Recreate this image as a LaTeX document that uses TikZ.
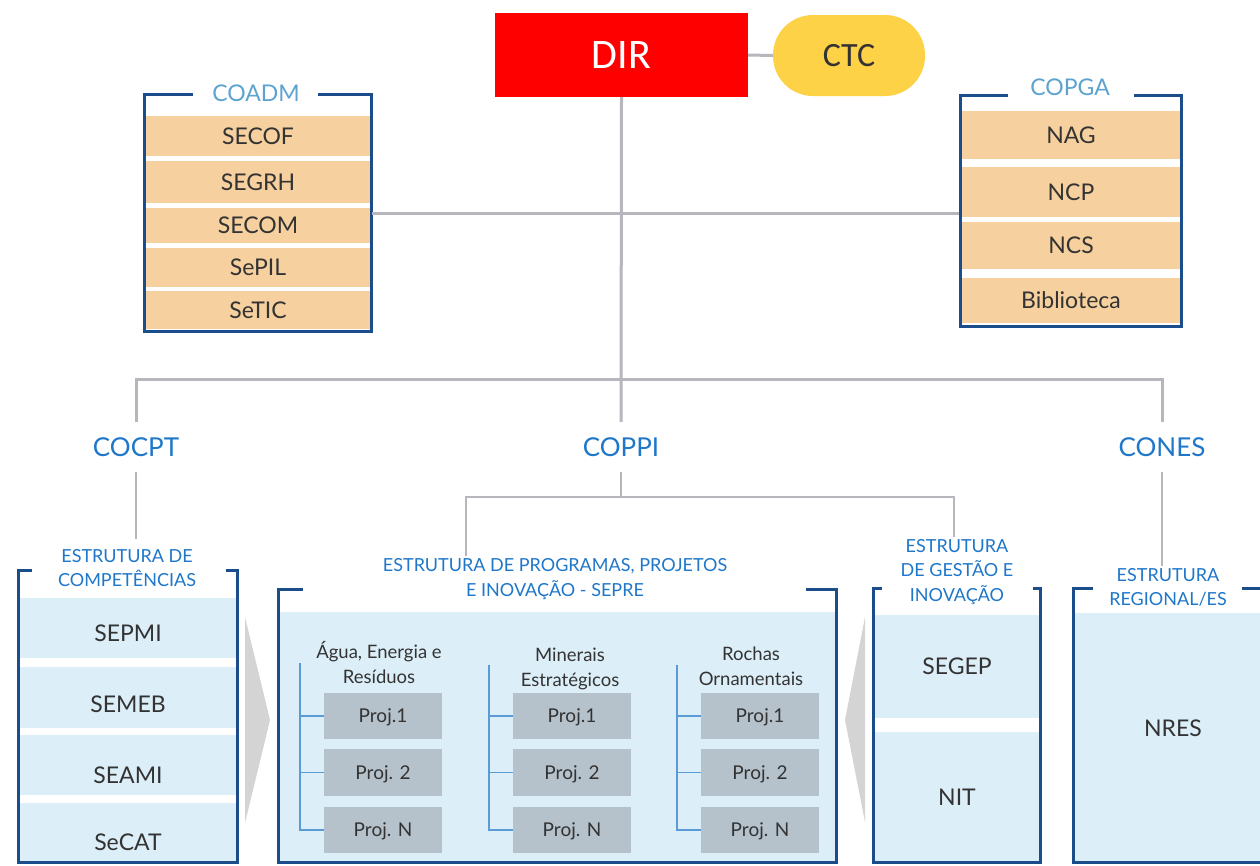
\documentclass[tikz,border=0pt]{standalone}
\usepackage{fontspec}
\setmainfont{Lato}
\newfontfamily\calib{Carlito}
\definecolor{dirred}{HTML}{FF0000}
\definecolor{ctcyel}{HTML}{FDD247}
\definecolor{linegray}{HTML}{B6B6BC}
\definecolor{frameblue}{HTML}{1B4D8A}
\definecolor{tanband}{HTML}{F6D09E}
\definecolor{lightblue}{HTML}{DCEEF8}
\definecolor{projgray}{HTML}{B5C2CC}
\definecolor{treeblue}{HTML}{5B9BD5}
\definecolor{titleblue}{HTML}{1F77C9}
\definecolor{paletitle}{HTML}{5DA3CF}
\definecolor{arrowgray}{HTML}{D4D4D4}
\definecolor{textdark}{HTML}{333333}
\begin{document}
\begin{tikzpicture}[x=1pt,y=-1pt,
  conn/.style={draw=linegray, line width=3pt},
  conn2/.style={draw=linegray, line width=2.4pt},
  frame/.style={draw=frameblue, line width=3pt},
  tree/.style={draw=treeblue, line width=1.8pt},
  tanb/.style={fill=tanband, draw=none, inner sep=0pt, text=textdark,
    font=\fontsize{23}{26}\selectfont, text height=16pt, text depth=0pt},
  blueb/.style={fill=lightblue, draw=none, inner sep=0pt, text=textdark,
    font=\fontsize{23}{26}\selectfont, text height=16pt, text depth=0pt},
  projb/.style={fill=projgray, draw=none, inner sep=0pt, text=textdark,
    minimum width=118pt, font=\fontsize{19}{22}\selectfont, text height=13pt, text depth=0pt},
  ttl/.style={text=paletitle, font=\fontsize{23}{26}\selectfont, inner sep=0pt},
  lvl/.style={text=titleblue, font=\fontsize{26}{30}\selectfont, minimum height=50pt, inner sep=0pt},
  sttl/.style={text=titleblue, font=\fontsize{18}{24.5}\selectfont, align=center, inner sep=2pt},
  coltl/.style={text=textdark, font=\fontsize{18.5}{25}\selectfont, align=center, inner sep=0pt},
  ghost/.style={draw=none, inner sep=0pt}
]
\useasboundingbox (0,0) rectangle (1260,865);
\fill[white] (0,0) rectangle (1260,865);

% ---------- top ----------
\node[fill=dirred, minimum width=253pt, minimum height=84pt, inner sep=0pt,
  text=white, font=\calib\fontsize{42}{46}\selectfont] (dir) at (621.5,55) {DIR};
\node[fill=ctcyel, rounded corners=40pt, minimum width=152pt, minimum height=81pt,
  inner sep=0pt, text=textdark, font=\calib\fontsize{34}{38}\selectfont] (ctc) at (849,55.5) {CTC};
\draw[conn] (dir.east) -- (ctc.west);

% ---------- COADM ----------
\node[ghost, minimum width=228pt, minimum height=237pt] (coadm) at (258,213) {};
\node[tanb, minimum width=226pt, minimum height=40pt] (secof) at (258,136) {SECOF};
\node[tanb, minimum width=226pt, minimum height=42pt] (segrh) at (258,182) {SEGRH};
\node[tanb, minimum width=226pt, minimum height=35pt] (secom) at (258,225.5) {SECOM};
\node[tanb, minimum width=226pt, minimum height=39pt] (sepil) at (258,267.5) {SePIL};
\node[tanb, minimum width=226pt, minimum height=38pt] (setic) at (258,310) {SeTIC};
\draw[frame] (193,94.5) -- (144.5,94.5) -- (144.5,331) -- (371.5,331) -- (371.5,94.5) -- (318,94.5);
\node[ttl] (coadmT) at (256,93) {COADM};

% ---------- COPGA ----------
\node[ghost, minimum width=223pt, minimum height=234pt] (copga) at (1071,211) {};
\node[tanb, minimum width=220pt, minimum height=48pt] (nag) at (1071,135) {NAG};
\node[tanb, minimum width=220pt, minimum height=50pt] (ncp) at (1071,192) {NCP};
\node[tanb, minimum width=220pt, minimum height=47pt] (ncs) at (1071,245.5) {NCS};
\node[tanb, minimum width=220pt, minimum height=45pt] (bib) at (1071,300.5) {Biblioteca};
\draw[frame] (1008,95) -- (960.5,95) -- (960.5,326.5) -- (1181.5,326.5) -- (1181.5,95) -- (1134,95);
\node[ttl] (copgaT) at (1070,87) {COPGA};

% ---------- level 2 ----------
\node[lvl] (cocpt) at (136,447) {COCPT};
\node[lvl] (coppi) at (621,447) {COPPI};
\node[lvl] (cones) at (1162,447) {CONES};
\coordinate (j2) at (621,379);
\coordinate (j3) at (621,497);
\coordinate (s1) at (466,0);
\coordinate (s2) at (954,0);

\draw[conn] (dir.south) -- (coppi.north);
\draw[conn] (coadm.east) -- (copga.west |- coadm.east);
\draw[conn] (cocpt.north) -- (cocpt.north |- j2) -- (cones.north |- j2) -- (cones.north);

% ---------- bottom titles ----------
\node[sttl] (compT) at (127,568) {ESTRUTURA DE\\COMPETÊNCIAS};
\node[sttl] (sepreT) at (555,579) {ESTRUTURA DE PROGRAMAS, PROJETOS\\E INOVAÇÃO - SEPRE};
\node[sttl] (gestT) at (957,572) {ESTRUTURA\\DE GESTÃO E\\INOVAÇÃO};
\node[sttl] (regT) at (1168,587.5) {ESTRUTURA\\REGIONAL/ES};

\draw[conn2] (cocpt.south) -- ([yshift=8pt]cocpt.south |- compT.north);
\draw[conn2] (coppi.south) -- (j3);
\draw[conn2] (sepreT.north -| s1) -- (s1 |- j3) -- (s2 |- j3) -- (gestT.north -| s2);
\draw[conn2] (cones.south) -- (cones.south |- regT.north);

% ---------- Competencias ----------
\node[blueb, minimum width=216pt, minimum height=60pt, text height=26pt] (sepmi) at (128,628) {SEPMI};
\node[blueb, minimum width=216pt, minimum height=61pt, text height=30pt] (semeb) at (128,697.5) {SEMEB};
\node[blueb, minimum width=216pt, minimum height=60pt, text height=36pt] (seami) at (128,765) {SEAMI};
\node[blueb, minimum width=216pt, minimum height=59pt, text height=36pt] (secat) at (128,832.5) {SeCAT};
\draw[frame] (32,570) -- (18.5,570) -- (18.5,862.5) -- (237.5,862.5) -- (237.5,570) -- (226,570);

% arrows
\fill[arrowgray] (245,617) -- (270,720) -- (245,823) -- cycle;
\fill[arrowgray] (865,617) -- (845,720) -- (865,822) -- cycle;

% ---------- SEPRE ----------
\fill[lightblue] (280,612) rectangle (835,861);
\draw[frame] (303,589) -- (278.5,589) -- (278.5,862.5) -- (836.5,862.5) -- (836.5,589) -- (806,589);

\node[coltl] (ct1) at (379,662) {Água, Energia e\\Resíduos};
\node[coltl] (ct2) at (570,669) {Minerais\\Estratégicos};
\node[coltl] (ct3) at (751,666) {Rochas\\Ornamentais};

\node[projb, minimum height=46pt] (p11) at (383,716) {Proj.1};
\node[projb, minimum height=47pt] (p12) at (383,772.5) {Proj. 2};
\node[projb, minimum height=46pt] (p13) at (383,830) {Proj. N};
\node[projb, minimum height=46pt] (p21) at (572,716) {Proj.1};
\node[projb, minimum height=47pt] (p22) at (572,772.5) {Proj. 2};
\node[projb, minimum height=46pt] (p23) at (572,830) {Proj. N};
\node[projb, minimum height=46pt] (p31) at (760,716) {Proj.1};
\node[projb, minimum height=47pt] (p32) at (760,772.5) {Proj. 2};
\node[projb, minimum height=46pt] (p33) at (760,830) {Proj. N};

\coordinate (t1) at (300,663);
\coordinate (t2) at (489,665);
\coordinate (t3) at (677,665);
\draw[tree] (t1) |- (p11.west);
\draw[tree] (t1) |- (p12.west);
\draw[tree] (t1) |- (p13.west);
\draw[tree] (t2) |- (p21.west);
\draw[tree] (t2) |- (p22.west);
\draw[tree] (t2) |- (p23.west);
\draw[tree] (t3) |- (p31.west);
\draw[tree] (t3) |- (p32.west);
\draw[tree] (t3) |- (p33.west);

% ---------- Gestao ----------
\node[blueb, minimum width=164pt, minimum height=103pt] (segep) at (957,666.5) {SEGEP};
\node[blueb, minimum width=164pt, minimum height=130pt] (nit) at (957,797) {NIT};
\draw[frame] (882,588) -- (873.5,588) -- (873.5,862.5) -- (1040.5,862.5) -- (1040.5,588) -- (1033,588);

% ---------- Regional ----------
\node[blueb, minimum width=185pt, minimum height=248pt] (nres) at (1167.5,737) {};
\node[text=textdark, font=\fontsize{23}{26}\selectfont, inner sep=0pt] (nrest) at (1173,728) {NRES};
\draw[frame] (1093,588) -- (1073.5,588) -- (1073.5,862.5) -- (1262,862.5);
\draw[frame] (1242,588) -- (1262,588);
\end{tikzpicture}
\end{document}
